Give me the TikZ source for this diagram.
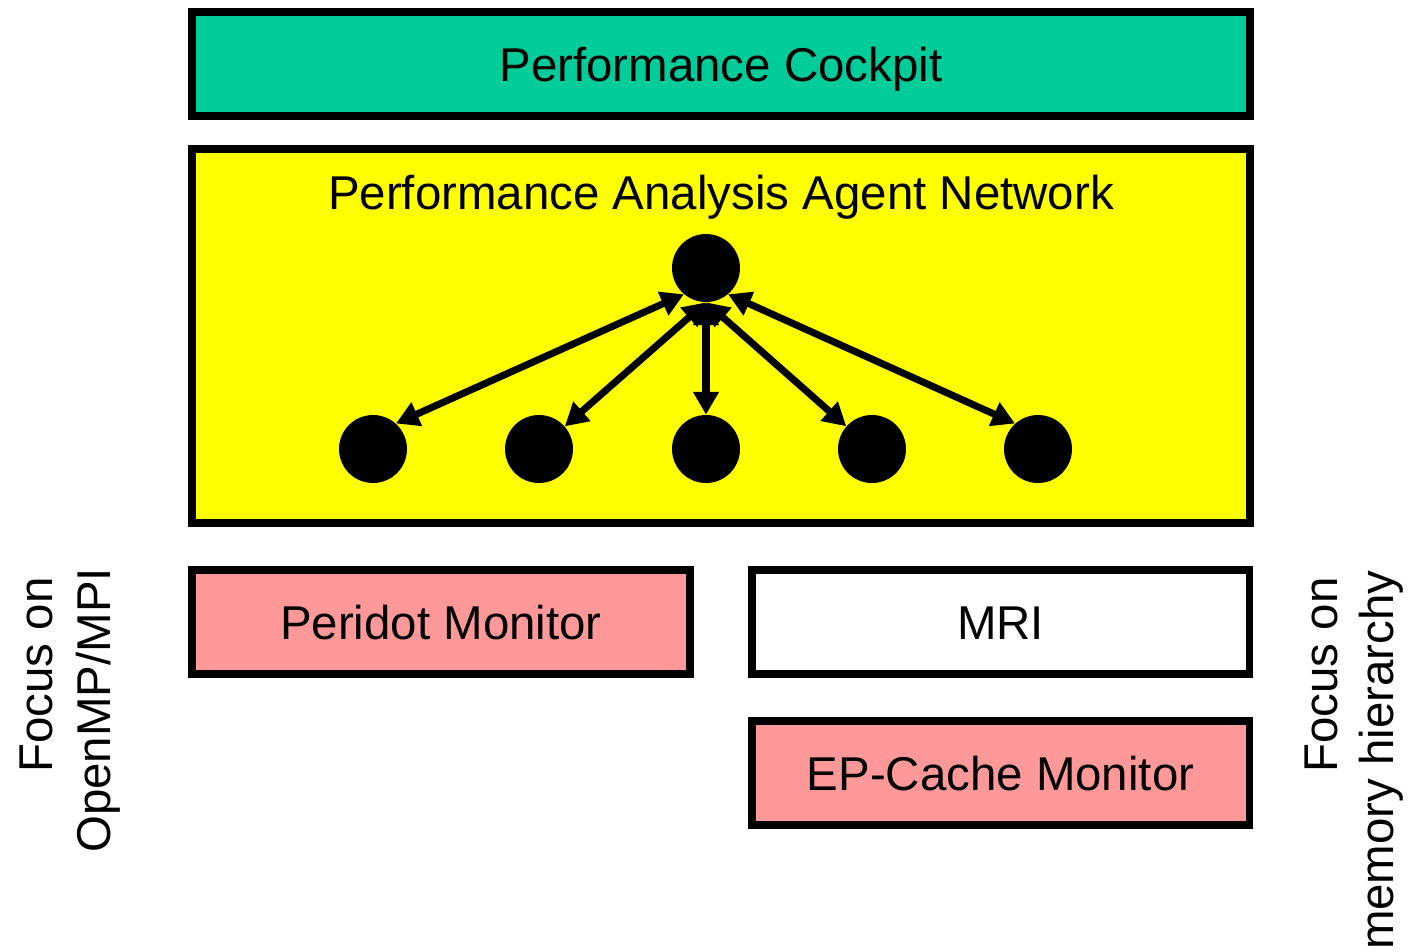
\documentclass[tikz,border=0pt]{standalone}
\usepackage{fontspec}
\setmainfont{Liberation Sans}
\usetikzlibrary{arrows.meta}
\definecolor{cockpitgreen}{RGB}{0,204,153}
\definecolor{monitorpink}{RGB}{255,153,153}
\definecolor{netyellow}{RGB}{255,255,0}
\tikzset{
  txt/.style={font=\fontsize{27}{32}\selectfont,text height=19.4pt,text depth=0pt,inner sep=0pt},
  box/.style={txt,draw,line width=4.5pt,minimum width=21.16cm,minimum height=2.08cm},
  smallbox/.style={box,minimum width=9.96cm},
  agent/.style={circle,fill,minimum size=1.36cm,inner sep=0pt}
}
\begin{document}
\begin{tikzpicture}[x=0.02cm,y=-0.02cm,>={Triangle[length=13pt,width=14pt]}]
        \useasboundingbox (0,0) rectangle (1411,951);
        \node[box,fill=cockpitgreen] (cockpit) at (721,64) {Performance Cockpit};
        \node[box,fill=netyellow,minimum height=7.48cm] (network) at (721,336) {};
        \node[txt] (nettitle) at (721,192) {Performance Analysis Agent Network};
        \node[agent] (root) at (706,268) {};
        \foreach \x [count=\i] in {373,539,706,872,1038}
          \node[agent] (c\i) at (\x,449) {};
        \draw[<->,line width=4pt] (root.230)--(c1.48);
        \draw[<->,line width=4pt] (root.310)--(c5.132);
        \foreach \i in {2,3,4}
          \draw[<->,line width=4pt] (root.south)--(c\i);
        \node[smallbox,fill=monitorpink] (peridot) at (441,622) {Peridot Monitor};
        \node[smallbox,fill=white] (mri) at (1000.5,622) {MRI};
        \node[smallbox,fill=monitorpink] (epcache) at (1000.5,773) {EP-Cache Monitor};
        \node[txt,rotate=90,anchor=base west] (focusl) at (52,773) {Focus on};
        \node[txt,rotate=90,anchor=base west] (ompl) at (110,853) {OpenMP/MPI};
        \node[txt,rotate=90,anchor=base west] (focusr) at (1337,773) {Focus on};
        \node[txt,rotate=90,anchor=base east] (memr) at (1393,570) {memory hierarchy};
\end{tikzpicture}
\end{document}
